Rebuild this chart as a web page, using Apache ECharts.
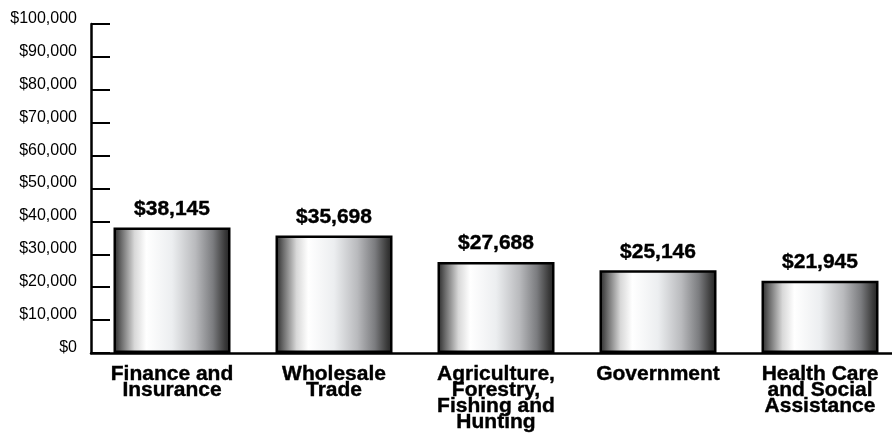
<!DOCTYPE html>
<html>
<head>
<meta charset="utf-8">
<script src="https://cdn.jsdelivr.net/npm/echarts@6/dist/echarts.min.js"></script>
<style>html,body{margin:0;padding:0;background:#fff;overflow:hidden}#c{width:901px;height:442px}</style>
</head>
<body>
<div id="c"></div>
<script>
var categories = ['Finance and\nInsurance', 'Wholesale\nTrade', 'Agriculture,\nForestry,\nFishing and\nHunting', 'Government', 'Health Care\nand Social\nAssistance'];
var values = [38145, 35698, 27688, 25146, 21945];
var yTicks = [0, 10000, 20000, 30000, 40000, 50000, 60000, 70000, 80000, 90000, 100000];

function money(v) { return '$' + Math.round(v).toString().replace(/\B(?=(\d{3})+(?!\d))/g, ','); }

var chart = echarts.init(document.getElementById('c'));
chart.setOption({
  animation: false,
  backgroundColor: '#fff',
  grid: { left: 91, top: 24, right: 0, bottom: 89 },
  xAxis: {
    type: 'category',
    data: categories,
    axisLine: { lineStyle: { color: '#000', width: 2.5 } },
    axisTick: { inside: true, length: 6, lineStyle: { color: '#000', width: 1.5 } },
    axisLabel: {
      interval: 0, color: '#000', fontFamily: 'Liberation Sans, Arial', fontWeight: 'bold',
      fontSize: 21, lineHeight: 16, margin: 13,
      textBorderColor: '#000', textBorderWidth: 0.4
    }
  },
  yAxis: {
    type: 'value',
    min: yTicks[0], max: yTicks[yTicks.length - 1], interval: 10000,
    axisLine: { show: true, lineStyle: { color: '#000', width: 2.5 } },
    axisTick: { show: true, inside: true, length: 19, lineStyle: { color: '#000', width: 2 } },
    splitLine: { show: false },
    axisLabel: {
      color: '#000', fontFamily: 'Liberation Sans, Arial', fontSize: 16, margin: 14,
      verticalAlign: 'bottom', lineHeight: 11,
      formatter: money
    }
  },
  series: [{
    type: 'bar',
    data: values,
    barWidth: 117,
    itemStyle: {
      borderColor: '#000', borderWidth: 2.5,
      color: new echarts.graphic.LinearGradient(0, 0, 1, 0, [
        { offset: 0, color: '#262626' },
        { offset: 0.07, color: '#6e6e6e' },
        { offset: 0.18, color: '#d8d8d8' },
        { offset: 0.28, color: '#ffffff' },
        { offset: 0.5, color: '#eceef0' },
        { offset: 0.7, color: '#b9babd' },
        { offset: 0.85, color: '#7b7c7f' },
        { offset: 0.95, color: '#3c3c3c' },
        { offset: 1, color: '#202020' }
      ])
    },
    label: {
      show: true, position: 'top', distance: 8, color: '#000',
      fontFamily: 'Liberation Sans, Arial', fontWeight: 'bold', fontSize: 21,
      textBorderColor: '#000', textBorderWidth: 0.4,
      formatter: function (p) { return money(p.value); }
    }
  }]
});
</script>
</body>
</html>
